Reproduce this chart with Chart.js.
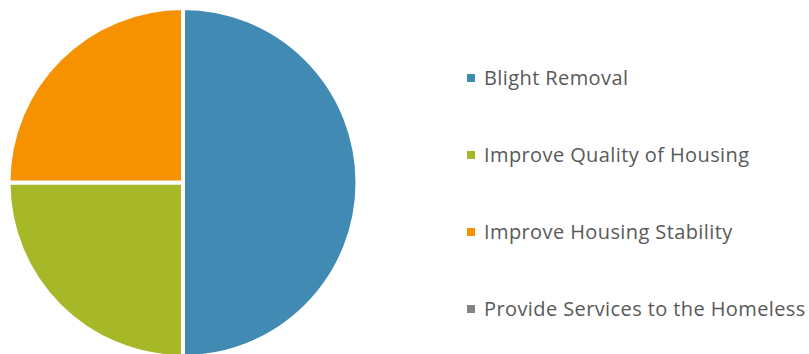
<!DOCTYPE html>
<html>
<head>
<meta charset="utf-8">
<script src="https://cdn.jsdelivr.net/npm/chart.js@4.4.1/dist/chart.umd.min.js"></script>
<style>
  html, body { margin: 0; padding: 0; background: #ffffff; overflow: hidden; width: 809px; height: 354px; }
  #pie { position: absolute; left: 0; top: 0; display: block; }
  #legend { position: absolute; left: 467px; top: 39px; }
  #legend ul { list-style: none; margin: 0; padding: 0; }
  #legend li {
    display: flex; align-items: center; height: 77px;
    font-family: "Open Sans", sans-serif; font-size: 20px; color: #595959;
    letter-spacing: 0.4px; white-space: nowrap;
  }
  #legend .swatch { display: inline-block; width: 8px; height: 8px; margin-right: 9px; flex: none; }
</style>
</head>
<body>
<canvas id="pie" width="366" height="354"></canvas>
<div id="legend"></div>
<script>
// Activities and their share of projects
const categories = [
  'Blight Removal',
  'Improve Quality of Housing',
  'Improve Housing Stability',
  'Provide Services to the Homeless'
];
const projectCounts = [2, 1, 1, 0];
const sliceColors = ['#418AB3', '#A6B727', '#F69200', '#838383'];

// Builds the legend list beside the canvas from the chart's own legend items
const htmlLegend = {
  id: 'htmlLegend',
  afterUpdate(chart) {
    const box = document.getElementById('legend');
    box.innerHTML = '';
    const list = document.createElement('ul');
    const items = chart.options.plugins.legend.labels.generateLabels(chart);
    items.forEach(item => {
      const li = document.createElement('li');
      const swatch = document.createElement('span');
      swatch.className = 'swatch';
      swatch.style.background = item.fillStyle;
      const text = document.createElement('span');
      text.textContent = item.text;
      li.appendChild(swatch);
      li.appendChild(text);
      list.appendChild(li);
    });
    box.appendChild(list);
  }
};

new Chart(document.getElementById('pie'), {
  type: 'pie',
  data: {
    labels: categories,
    datasets: [{
      data: projectCounts,
      backgroundColor: sliceColors,
      borderColor: '#ffffff',
      borderWidth: 4,
      radius: 174.5
    }]
  },
  options: {
    responsive: false,
    animation: false,
    events: [],
    layout: { padding: { top: 11, bottom: 0, left: 0, right: 0 } },
    plugins: {
      tooltip: { enabled: false },
      legend: { display: false }
    }
  },
  plugins: [htmlLegend]
});
</script>
</body>
</html>
